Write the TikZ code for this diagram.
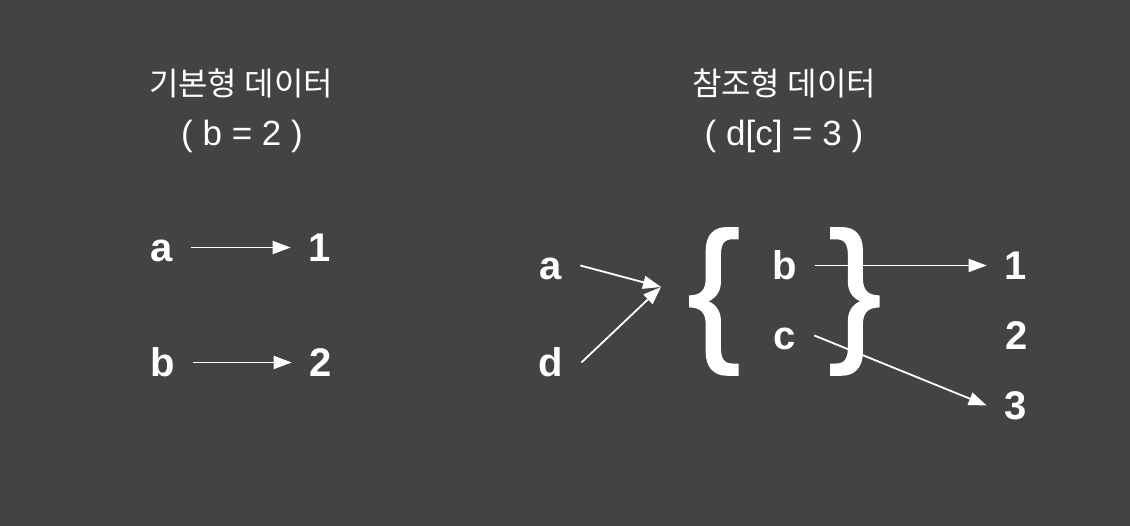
\documentclass[tikz,border=0pt]{standalone}
\usepackage{fontspec}
\setmainfont{Liberation Sans}
\newfontfamily\kor{Noto Sans CJK KR}
\newfontfamily\bracefont[FakeBold=1.5]{Liberation Sans}
\usetikzlibrary{arrows.meta}
\definecolor{slidebg}{HTML}{434343}

\begin{document}
\begin{tikzpicture}[x=1pt,y=-1pt,
  letter/.style={font=\fontsize{40}{40}\selectfont\bfseries, text=white,
    anchor=base, text height=29pt, text depth=0pt, inner xsep=18pt, inner ysep=0pt},
  heading/.style={font=\fontsize{32}{32}\selectfont\kor, text=white, anchor=base, inner sep=0pt},
  note/.style={font=\fontsize{35}{35}\selectfont, text=white, anchor=base, inner sep=0pt},
  bracket/.style={font=\fontsize{157}{157}\selectfont\bracefont, text=white, anchor=base, inner sep=0pt},
  link/.style={white, line width=1.8pt, -{Triangle[length=18pt,width=13pt]}}]

\def\width{1130}
\def\height{526}

\path [fill=slidebg, use as bounding box] (0,0) rectangle (\width,\height);

% TITLES
\node [heading] (primTitle) at (241,96) {기본형 데이터};
\node [note] (primNote) at (242,146) {( b = 2 )};
\node [heading] (refTitle) at (784,96) {참조형 데이터};
\node [note] (refNote) at (784,146) {( d[c] = 3 )};

% PRIMITIVE
\node [letter] (pa) at (162,262) {a};
\node [letter] (pone) at (320,262) {1};
\node [letter] (pb) at (163,377) {b};
\node [letter] (ptwo) at (321,377) {2};
\draw [link] (pa.east) -- (pone.west);
\draw [link] (pb.east) -- (ptwo.west);

% REFERENCE
\node [letter] (ra) at (551,280) {a};
\node [letter] (rd) at (551,377) {d};
\coordinate (obj) at (661,287);
\draw [link] (ra.east) -- (obj);
\draw [link] (rd.east) -- (obj);

\node [bracket] (lbrace) at (714,342) {\{};
\node [bracket] (rbrace) at (855,342) {\}};
\node [letter] (rb) at (785,280) {b};
\node [letter] (rc) at (785,350) {c};

\node [letter] (rone) at (1016,280) {1};
\node [letter] (rtwo) at (1017,350) {2};
\node [letter] (rthree) at (1016,420) {3};
\draw [link] (rb.east) -- (rone.west);
\draw [link] (rc.east) -- (rthree.west);

\end{tikzpicture}
\end{document}
